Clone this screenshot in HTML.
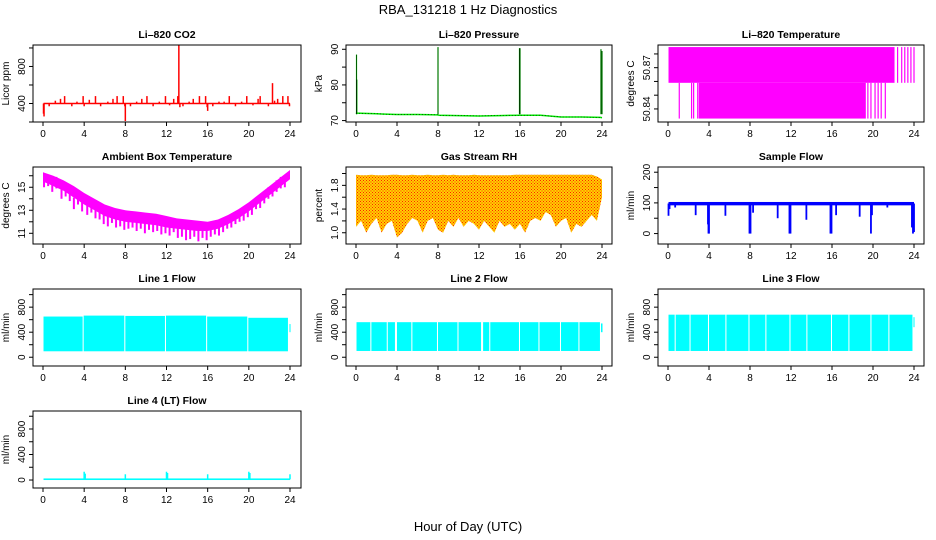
<!DOCTYPE html>
<html><head><meta charset="utf-8"><style>
html,body{margin:0;padding:0;background:#fff}
svg{display:block;font-family:"Liberation Sans",Arial,sans-serif}
</style></head><body>
<svg id="c" width="936" height="540" viewBox="0 0 936 540">
<defs>
<pattern id="rhpat" width="3" height="3" patternUnits="userSpaceOnUse">
<rect width="3" height="3" fill="#ffd000"/><rect x="0" y="0" width="1" height="1" fill="#ff2000"/><rect x="1.5" y="1.5" width="1" height="1" fill="#ff2000"/>
</pattern>
</defs>
<text x="468" y="14" text-anchor="middle" font-size="13">RBA_131218  1 Hz Diagnostics</text>
<text x="468" y="531" text-anchor="middle" font-size="13">Hour of Day (UTC)</text>
</svg>
<script>
// ---- data ----
const xTicks=[0,4,8,12,16,20,24];
const co2Base=[400,400];
const co2SpikeHours=[0.05,0.1,0.6,1.2,1.7,2.1,2.8,3.3,3.9,4.0,4.5,5.1,5.6,6.3,6.8,7.2,7.8,7.95,8.0,8.5,9.1,9.6,10.1,10.7,11.3,11.9,12.3,12.7,13.1,13.2,13.3,13.6,14.2,14.6,15.2,15.8,15.95,16.0,16.5,17.1,17.6,18.1,18.7,19.3,19.8,20.4,20.9,21.1,21.9,22.3,22.5,22.8,23.3,23.8,23.95];
const co2SpikeValues=[290,260,370,430,450,480,370,420,480,370,440,480,370,420,450,480,480,370,210,370,420,450,480,370,420,480,380,450,480,1030,360,370,420,450,480,480,360,320,370,420,420,480,370,420,480,380,450,480,370,620,430,450,480,480,370];
const presHours=[0,0.06,2,4,6,8,8.1,10,12,14,16,16.1,18,20,22,23.85,24];
const presValues=[72.2,72.1,71.9,71.7,71.7,71.6,71.5,71.4,71.3,71.4,71.5,71.5,71.5,71.0,71.0,70.9,70.8];
const presSpikeHours=[0.05,0.08,8.0,15.95,16.0,23.9,24.0];
const presSpikeValues=[88.5,81.5,90.6,90.3,90.3,90.0,89.5];
const tempBlocks=[[0.05,22.1,50.859,50.885],[3.0,19.3,50.833,50.859]];
const tempLines=[[1.1,50.833,50.859],[2.3,50.833,50.859],[2.5,50.833,50.859],[2.9,50.833,50.859],[19.5,50.833,50.859],[19.8,50.833,50.859],[20.2,50.833,50.859],[20.5,50.833,50.859],[20.8,50.833,50.859],[21.2,50.833,50.859],[22.4,50.859,50.885],[22.8,50.859,50.885],[23.1,50.859,50.885],[23.4,50.859,50.885],[23.7,50.859,50.885],[24.0,50.859,50.885]];
const ambHours=[0,1,2,3,4,5,6,7,8,9,10,11,12,13,14,15,16,17,18,19,20,21,22,23,24];
const ambUpper=[16.3,16.0,15.6,15.1,14.5,14.0,13.5,13.2,13.0,12.9,12.8,12.7,12.5,12.3,12.2,12.1,12.0,12.2,12.6,13.1,13.7,14.4,15.1,15.8,16.5];
const ambLower=[15.5,15.1,14.7,14.1,13.5,13.0,12.5,12.2,12.0,11.9,11.8,11.7,11.5,11.4,11.3,11.2,11.2,11.4,11.8,12.3,12.9,13.6,14.3,15.0,15.7];
const ambDipHours=[0.1,0.5,0.9,1.3,1.8,2.2,2.6,3.0,3.4,3.8,4.3,4.7,5.1,5.5,5.9,6.3,6.7,7.1,7.5,7.9,8.3,8.7,9.1,9.5,9.9,10.3,10.7,11.1,11.5,11.9,12.3,12.7,13.1,13.5,13.9,14.3,14.7,15.1,15.5,15.9,16.3,16.7,17.1,17.5,17.9,18.3,18.7,19.1,19.5,19.9,20.3,20.7,21.1,21.5,21.9,22.3,22.7,23.1,23.5];
const ambDipValues=[15.0,15.1,14.6,14.9,14.0,14.2,13.8,13.1,13.5,12.9,12.6,12.8,12.3,12.2,11.8,11.6,11.9,11.5,11.6,11.3,11.4,11.5,11.2,11.4,11.0,11.3,11.1,11.2,10.9,11.0,10.8,11.1,10.6,10.7,10.4,10.5,10.7,10.3,10.6,10.4,10.7,10.9,10.8,11.1,11.4,11.5,11.8,12.0,12.1,12.4,12.6,13.1,13.2,13.6,14.0,14.2,14.6,14.9,15.0];
const rhHours=[0,0.5,1,1.5,2,2.5,3,3.5,4,4.5,5,5.5,6,6.5,7,7.5,8,8.5,9,9.5,10,10.5,11,11.5,12,12.5,13,13.5,14,14.5,15,15.5,16,16.5,17,17.5,18,18.5,19,19.5,20,20.5,21,21.5,22,22.5,23,23.5,24];
const rhUpper=[1.98,1.97,1.97,1.98,1.97,1.97,1.97,1.98,1.98,1.97,1.97,1.98,1.97,1.97,1.98,1.97,1.97,1.98,1.97,1.98,1.97,1.97,1.97,1.98,1.97,1.97,1.97,1.97,1.97,1.97,1.97,1.98,1.98,1.98,1.98,1.98,1.98,1.98,1.98,1.98,1.98,1.98,1.98,1.98,1.98,1.98,1.98,1.95,1.9];
const rhLower=[1.1,1.2,1.0,1.15,1.25,1.0,1.15,1.2,0.92,1.0,1.15,1.25,1.2,1.0,1.2,1.25,1.05,1.0,1.2,1.1,1.25,1.1,1.2,1.15,1.05,1.2,1.1,1.0,1.2,1.1,1.15,1.05,1.15,1.0,1.2,1.25,1.2,1.35,1.3,1.1,1.2,1.25,1.0,1.15,1.1,1.2,1.3,1.2,1.6];
const sfBase=[92,103];
const sfDipHours=[0.05,0.15,0.7,2.7,3.9,3.95,4.0,5.6,7.95,8.05,8.3,10.7,11.85,11.95,13.5,15.85,15.95,16.4,18.7,19.8,19.9,21.4,23.8,23.9,24.0];
const sfDipValues=[58,80,85,60,30,0,0,58,0,0,68,50,0,0,45,0,0,60,55,0,60,85,20,0,5];
const l1Blocks=[[0.05,3.85,95,650],[3.95,7.9,95,665],[8.0,11.85,95,660],[11.95,15.85,95,665],[15.95,19.85,95,650],[19.95,23.8,95,630],[23.95,24.05,400,530]];
const l2Blocks=[[0.05,1.4,100,560],[1.5,3.0,100,560],[3.1,3.8,100,560],[4.0,5.4,100,560],[5.5,7.9,100,560],[8.0,9.9,100,560],[10.0,12.2,100,560],[12.4,13.0,100,560],[13.1,15.9,100,560],[16.0,17.8,100,560],[17.9,19.9,100,560],[20.0,21.7,100,560],[21.8,23.8,100,560],[23.9,24.05,400,540]];
const l3Blocks=[[0.05,0.65,100,680],[0.75,2.1,100,680],[2.2,3.9,100,680],[4.0,5.6,100,680],[5.7,7.85,100,680],[7.95,9.5,100,680],[9.6,11.85,100,680],[11.95,13.5,100,680],[13.6,15.9,100,680],[16.0,17.6,100,680],[17.7,19.75,100,680],[19.85,21.5,100,680],[21.6,23.85,100,680],[23.95,24.05,480,640]];
const l4SpikeHours=[4.0,4.1,8.0,12.0,12.1,16.0,20.0,20.1,24.0];
const l4SpikeValues=[130,100,90,130,110,90,130,110,90];
// ---- layout ----
const NS='http://www.w3.org/2000/svg';
const svg=document.getElementById('c');
const colL=[33,346,658],colR=[301,612,924],colX0=[43,356,668],colX24=[290,602,914];
const rowT=[45,167,289,411],rowB=[122,244,366,488];
function el(tag,attrs,parent){const e=document.createElementNS(NS,tag);for(const k in attrs)e.setAttribute(k,attrs[k]);(parent||svg).appendChild(e);return e;}
function panel(c,r,name,title,ylab,dmin,dmax,ticks,labels){
  const g=el('g',{});
  
  
  const L=colL[c],R=colR[c],T=rowT[r],B=rowB[r];
  const x=h=>colX0[c]+(colX24[c]-colX0[c])*h/24;
  const y=v=>B-(v-dmin)/(dmax-dmin)*(B-T);
  const t=el('text',{x:(L+R)/2,y:T-7,'text-anchor':'middle','font-size':'10.5','font-weight':'bold'},g);t.textContent=title;
  
  
  const yl=el('text',{transform:`translate(${L-24},${(T+B)/2}) rotate(-90)`,'text-anchor':'middle','font-size':'10'},g);yl.textContent=ylab;
  
  
  const plot=el('g',{},g);
  
  
  el('rect',{x:L,y:T,width:R-L,height:B-T,fill:'none',stroke:'#000','stroke-width':'1'},g);
  const xa=el('g',{},g);
  
  
  el('line',{x1:x(0),x2:x(24),y1:B,y2:B,stroke:'#000'},xa);
  xTicks.forEach(h=>{el('line',{x1:x(h),x2:x(h),y1:B,y2:B+4,stroke:'#000'},xa);
    const tt=el('text',{x:x(h),y:B+15,'text-anchor':'middle','font-size':'10'},xa);tt.textContent=h;});
  const ya=el('g',{},g);
  
  
  el('line',{x1:L,x2:L,y1:y(ticks[0]),y2:y(ticks[ticks.length-1]),stroke:'#000'},ya);
  ticks.forEach((v,i)=>{el('line',{x1:L-4,x2:L,y1:y(v),y2:y(v),stroke:'#000'},ya);
    if(labels[i]!==''){const tt=el('text',{transform:`translate(${L-8},${y(v)}) rotate(-90)`,'text-anchor':'middle','font-size':'10'},ya);tt.textContent=labels[i];}});
  return {x,y,g:plot};
}
function poly(p,hs,up,lo,fill,name){
  let pts=hs.map((h,i)=>p.x(h)+','+p.y(up[i]));
  pts=pts.concat(hs.map((h,i)=>p.x(h)+','+p.y(lo[i])).reverse());
  const e=el('polygon',{points:pts.join(' '),fill:fill},p.g);
  
  
}
function blocks(p,bl,fill,name){bl.forEach(b=>{const e=el('rect',{x:p.x(b[0]),y:p.y(b[3]),width:Math.max(1,p.x(b[1])-p.x(b[0])),height:p.y(b[2])-p.y(b[3]),fill:fill},p.g);
  
  });}
function spikes(p,hs,vs,base,stroke,name,w){hs.forEach((h,i)=>{const b=Array.isArray(base)?base[i]:base;const e=el('line',{x1:p.x(h),x2:p.x(h),y1:p.y(b),y2:p.y(vs[i]),stroke:stroke,'stroke-width':w||1.5},p.g);
  
  });}
// CO2
let p=panel(0,0,'co2','Li\u2013820 CO2','Licor ppm',200,1032,[200,400,600,800,1000],['','400','','800','']);
spikes(p,co2SpikeHours,co2SpikeValues,400,'#ff0000','co2-spike',1.5);
blocks(p,[[0.05,24,co2Base[0]-8,co2Base[1]+8]],'#ff0000','co2-line');
// Pressure
p=panel(1,0,'pressure','Li\u2013820 Pressure','kPa',69.6,91.2,[70,75,80,85,90],['70','','80','','90']);
{const e=el('polyline',{points:presHours.map((h,i)=>p.x(h)+','+p.y(presValues[i])).join(' '),fill:'none',stroke:'#00ee00','stroke-width':1.5},p.g);

}
{const e=el('polyline',{points:presHours.map((h,i)=>p.x(h)+','+p.y(presValues[i])).join(' '),fill:'none',stroke:'#000','stroke-width':0.6,'stroke-dasharray':'1 2'},p.g);

}
spikes(p,presSpikeHours,presSpikeValues,71.8,'#00ee00','pressure-spike',1.2);
spikes(p,presSpikeHours,presSpikeValues,71.8,'#000','pressure-spike-dots',0.6);
// Li-820 temperature
p=panel(2,0,'li820-temp','Li\u2013820 Temperature','degrees C',50.8305,50.8865,[50.84,50.85,50.86,50.87,50.88],['50.84','','','50.87','']);
blocks(p,tempBlocks,'#ff00ff','temp-block');
tempLines.forEach(l=>{const e=el('line',{x1:p.x(l[0]),x2:p.x(l[0]),y1:p.y(l[1]),y2:p.y(l[2]),stroke:'#ff00ff','stroke-width':1.2},p.g);

});
// Ambient
p=panel(0,1,'ambient-temp','Ambient Box Temperature','degrees C',10.07,16.76,[11,12,13,14,15,16],['11','','13','','15','']);
poly(p,ambHours,ambUpper,ambLower,'#ff00ff','ambient-band');
spikes(p,ambDipHours,ambDipValues,ambDipValues.map((v,i)=>v+1.0),'#ff00ff','ambient-dip',2);
// RH
p=panel(1,1,'gas-rh','Gas Stream RH','percent',0.81,2.11,[1.0,1.2,1.4,1.6,1.8,2.0],['1.0','','1.4','','1.8','']);
poly(p,rhHours,rhUpper,rhLower,'url(#rhpat)','rh-band');
// Sample flow
p=panel(2,1,'sample-flow','Sample Flow','ml/min',-34,217,[0,50,100,150,200],['0','','100','','200']);
spikes(p,sfDipHours,sfDipValues,98,'#0000ff','sample-flow-dip',1.8);
blocks(p,[[0.05,24,sfBase[0],sfBase[1]]],'#0000ff','sample-flow-line');
// Line flows
const fl=[-140,1090],ft=[0,200,400,600,800,1000],flab=['0','','400','','800',''];
p=panel(0,2,'line1-flow','Line 1 Flow','ml/min',fl[0],fl[1],ft,flab);blocks(p,l1Blocks,'#00ffff','line1-block');
p=panel(1,2,'line2-flow','Line 2 Flow','ml/min',fl[0],fl[1],ft,flab);blocks(p,l2Blocks,'#00ffff','line2-block');
p=panel(2,2,'line3-flow','Line 3 Flow','ml/min',fl[0],fl[1],ft,flab);blocks(p,l3Blocks,'#00ffff','line3-block');
p=panel(0,3,'line4-flow','Line 4 (LT) Flow','ml/min',-125,1082,ft,flab);
blocks(p,[[0.05,24,0,25]],'#00ffff','line4-line');
spikes(p,l4SpikeHours,l4SpikeValues,10,'#00ffff','line4-spike',1.5);
</script>
</body></html>
